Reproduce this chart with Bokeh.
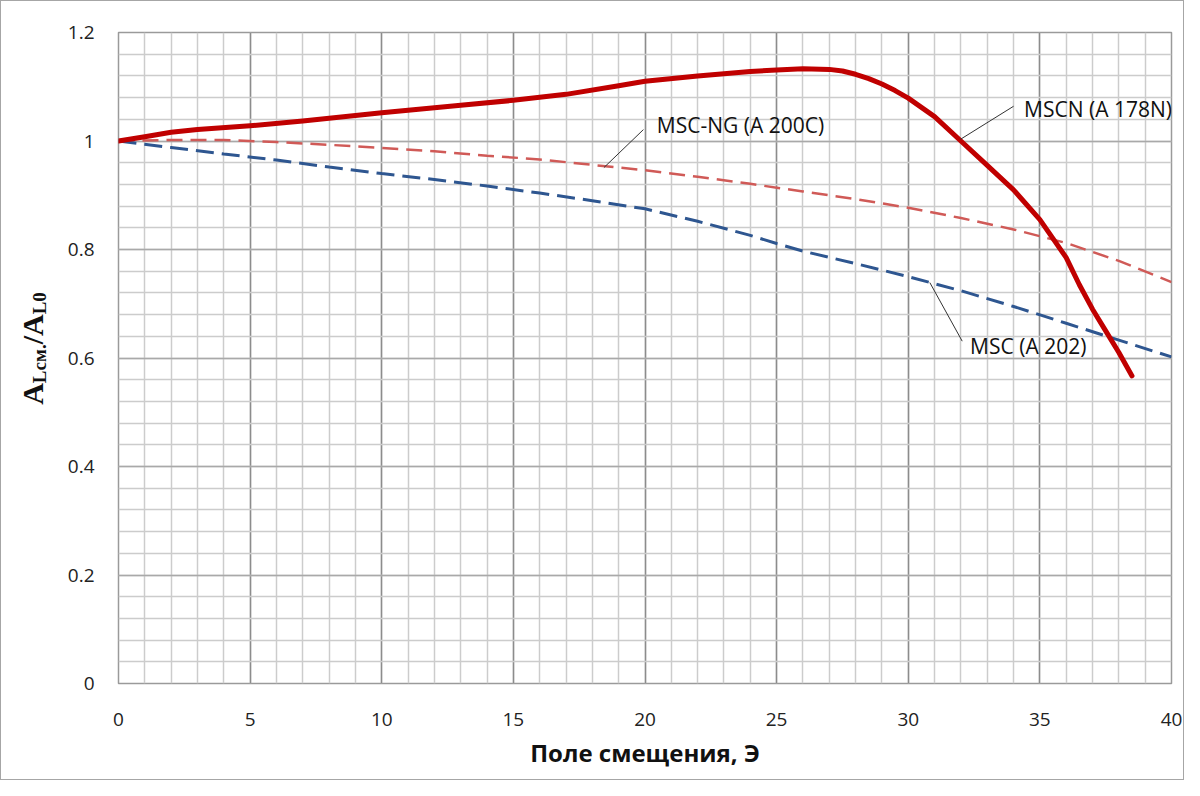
from bokeh.plotting import figure
from bokeh.layouts import row
from bokeh.models import FixedTicker, Label, ColumnDataSource, Div
from bokeh.embed import file_html
from bokeh.resources import INLINE

# ---- data ----
mscn_x = [0, 1, 2, 3, 5, 7, 10, 13, 15, 17, 19, 20, 22, 24, 25, 26, 27, 27.5, 28, 28.5, 29, 29.5, 30, 31, 32,
          33, 34, 35, 35.5, 36, 36.5, 37, 37.5, 38, 38.5]
mscn_y = [1.0, 1.008, 1.016, 1.021, 1.028, 1.037, 1.052, 1.066, 1.075, 1.086, 1.102, 1.11, 1.12, 1.128, 1.131,
          1.133, 1.132, 1.129, 1.123, 1.115, 1.105, 1.093, 1.079, 1.045, 1.0,
          0.955, 0.91, 0.855, 0.82, 0.785, 0.735, 0.69, 0.65, 0.61, 0.567]

mscng_x = [0, 2, 4, 6, 8, 10, 12, 14, 16, 18, 20, 22, 24, 26, 28, 30, 32, 34, 36, 38, 40]
mscng_y = [1.0, 1.002, 1.002, 0.998, 0.993, 0.987, 0.981, 0.973, 0.966, 0.956, 0.946, 0.934, 0.921, 0.907,
           0.893, 0.877, 0.858, 0.837, 0.812, 0.779, 0.740]

msc_x = [0, 2, 4, 6, 8, 10, 12, 14, 16, 18, 20, 22, 24, 25, 26, 28, 30, 32, 34, 36, 38, 40]
msc_y = [1.0, 0.988, 0.976, 0.965, 0.952, 0.940, 0.929, 0.917, 0.904, 0.890, 0.875, 0.852, 0.826, 0.811, 0.797,
         0.774, 0.750, 0.724, 0.695, 0.664, 0.633, 0.602]

x_ticks = [0, 5, 10, 15, 20, 25, 30, 35, 40]
x_minor = list(range(0, 41))
y_ticks = [0, 0.2, 0.4, 0.6, 0.8, 1.0, 1.2]
y_minor = [round(i * 0.04, 2) for i in range(31)]
y_tick_labels = ["0", "0.2", "0.4", "0.6", "0.8", "1", "1.2"]

series_labels = ["MSC-NG (A 200C)", "MSCN (A 178N)", "MSC (A 202)"]
# leader lines (from point on curve to label) and label anchors, data coords
leader_x0 = [18.44, 31.98, 30.82]
leader_y0 = [0.951, 1.003, 0.739]
leader_x1 = [19.94, 34.0, 32.05]
leader_y1 = [1.021, 1.064, 0.631]
label_x = [20.45, 34.4, 32.35]
label_y = [1.030, 1.059, 0.623]

x_title = "Поле смещения, Э"
y_title_main = ["A", "/A"]
y_title_sub = ["Lсм.", "L0"]

# ---- y title (rotated, with subscripts) ----
DIV_W = 60
INNER_W, INNER_H = 1182, 778
y_html = (
    '<div style="position:absolute; left:0; top:0; width:64px; height:694px; '
    'display:flex; align-items:center; justify-content:center;">'
    '<span style="display:inline-block; transform:rotate(-90deg); white-space:nowrap; '
    "font-family:'Liberation Serif'; font-weight:bold; font-size:30px; color:#111111; line-height:1;\">"
    f'{y_title_main[0]}<sub style="font-size:19px; vertical-align:-3px;">{y_title_sub[0]}</sub>'
    f'{y_title_main[1]}<sub style="font-size:19px; vertical-align:-3px;">{y_title_sub[1]}</sub>'
    '</span></div>'
)
ydiv = Div(text=y_html, width=DIV_W, height=INNER_H, margin=0, styles={"position": "relative"})

# ---- figure ----
p = figure(width=INNER_W - DIV_W, height=INNER_H, x_range=(0, 40), y_range=(0, 1.2),
           output_backend="svg", toolbar_location=None,
           min_border_left=57, min_border_right=12, min_border_top=31, min_border_bottom=96,
           background_fill_color="white", border_fill_color="white", margin=0)

p.outline_line_color = "#9a9a9a"
p.outline_line_width = 1.5

xt = FixedTicker(ticks=x_ticks, minor_ticks=x_minor)
yt = FixedTicker(ticks=y_ticks, minor_ticks=y_minor)
p.xaxis.ticker = xt
p.yaxis.ticker = yt
p.xgrid.ticker = xt
p.ygrid.ticker = yt

p.xgrid.grid_line_color = "#8c8c8c"
p.xgrid.grid_line_width = 1.5
p.xgrid.minor_grid_line_color = "#cccccc"
p.xgrid.minor_grid_line_width = 1.5
p.ygrid.grid_line_color = "#a9a9a9"
p.ygrid.grid_line_width = 1.5
p.ygrid.minor_grid_line_color = "#cccccc"
p.ygrid.minor_grid_line_width = 1.5

for ax in (p.xaxis, p.yaxis):
    ax.axis_line_color = None
    ax.major_tick_line_color = None
    ax.minor_tick_line_color = None
    ax.major_label_text_font = "Open Sans"
    ax.major_label_text_font_size = "19px"
    ax.major_label_text_color = "#222222"

p.yaxis.major_label_overrides = {t: s for t, s in zip(y_ticks, y_tick_labels)}
p.xaxis.major_label_overrides = {t: str(t) for t in x_ticks}
p.yaxis.major_label_standoff = 18
p.xaxis.major_label_standoff = 23

p.xaxis.axis_label = x_title
p.xaxis.axis_label_text_font = "Open Sans"
p.xaxis.axis_label_text_font_style = "bold"
p.xaxis.axis_label_text_font_size = "24px"
p.xaxis.axis_label_text_color = "#111111"
p.xaxis.axis_label_standoff = 7

# ---- series ----
p.line(mscng_x, mscng_y, line_color="#d05a57", line_width=2.5, line_dash="16 8")
p.line(msc_x, msc_y, line_color="#2e5690", line_width=3, line_dash="18 8")
p.line(mscn_x, mscn_y, line_color="#c00000", line_width=5, line_cap="round", line_join="round")

# ---- annotations ----
src = ColumnDataSource(dict(x0=leader_x0, y0=leader_y0, x1=leader_x1, y1=leader_y1))
p.segment(x0="x0", y0="y0", x1="x1", y1="y1", source=src, line_color="#333333", line_width=1)
for t, lx, ly in zip(series_labels, label_x, label_y):
    p.add_layout(Label(x=lx, y=ly, text=t, text_font="Open Sans", text_font_size="21px",
                       text_color="#111111", text_baseline="middle", text_align="left"))

layout = row(ydiv, p, margin=0, styles={"border": "1px solid #a6a6a6"})

open("out.html", "w").write(file_html(layout, INLINE))
